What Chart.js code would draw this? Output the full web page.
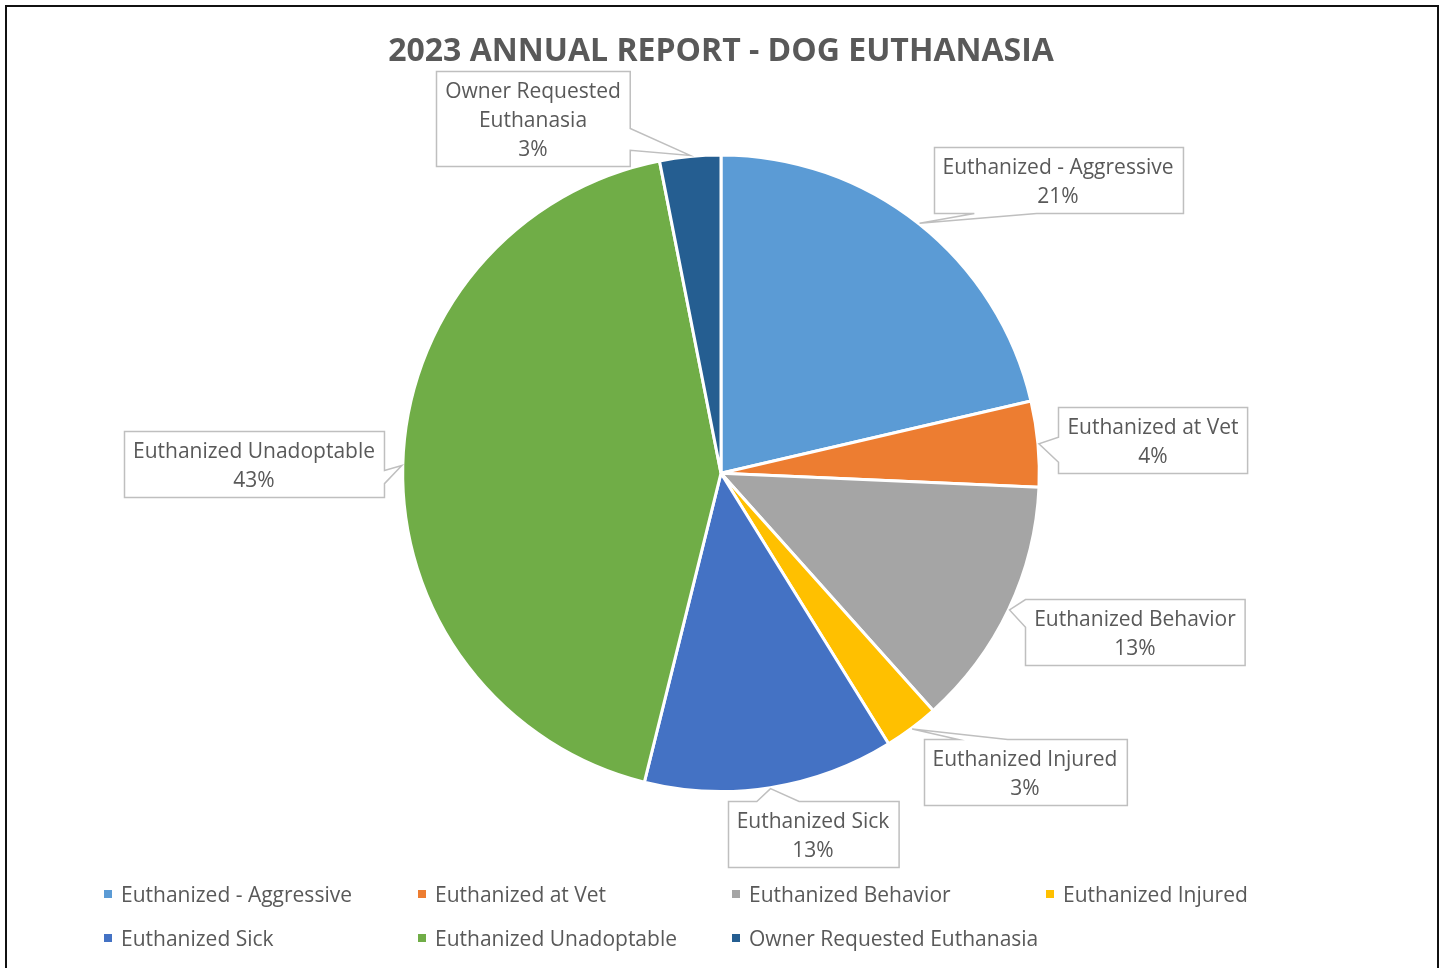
<!DOCTYPE html>
<html>
<head>
<meta charset="utf-8">
<title>2023 Annual Report - Dog Euthanasia</title>
<script src="https://cdn.jsdelivr.net/npm/chart.js@4"></script>
<style>
  html, body { margin: 0; padding: 0; background: #fff; overflow: hidden; }
  #wrap { position: relative; width: 1443px; height: 968px; }
  #frame { position: absolute; left: 5px; top: 5px; width: 1430px; height: 1000px; border: 2px solid #111; pointer-events: none; }
</style>
</head>
<body>
<div id="wrap">
  <canvas id="dogChart" width="1443" height="968"></canvas>
  <div id="frame"></div>
</div>
<script>
// Data
const categories = [
    'Euthanized - Aggressive',
    'Euthanized at Vet',
    'Euthanized Behavior',
    'Euthanized Injured',
    'Euthanized Sick',
    'Euthanized Unadoptable',
    'Owner Requested Euthanasia'
];
const dogCounts = [69, 14, 41, 9, 41, 139, 10];

// Styles
const sliceColors = ['#5B9BD5', '#ED7D31', '#A5A5A5', '#FFC000', '#4472C4', '#70AD47', '#255E91'];
const textColor = '#595959';
const fontFamily = '"Open Sans", "Noto Sans", sans-serif';
const labelSize = 21;

// Callout box placement (centre of box, side holding the pointer, pointer base as fraction of that side)
const calloutBoxes = [
    { cx: 1058, cy: 180, side: 'bottom', base: [0.16, 0.41] },
    { cx: 1153, cy: 440, side: 'left', base: [0.45, 0.83] },
    { cx: 1135, cy: 632, side: 'left', base: [0.0, 0.42] },
    { cx: 1025, cy: 772, side: 'top', base: [0.167, 0.41] },
    { cx: 813, cy: 834, side: 'top', base: [0.166, 0.414] },
    { cx: 254, cy: 464, side: 'right', base: [0.59, 0.79] },
    { cx: 533, cy: 118, side: 'right', base: [0.6, 0.83], wrap: 200 }
];

// Legend grid
const legendCols = [104, 418, 732, 1046];
const legendRows = [894, 938];

function wrapText(ctx, text, maxWidth) {
    if (!maxWidth) return [text];
    const words = text.split(' ');
    const lines = [];
    let line = '';
    words.forEach(function (w) {
        const test = line ? line + ' ' + w : w;
        if (line && ctx.measureText(test).width > maxWidth) {
            lines.push(line);
            line = w;
        } else {
            line = test;
        }
    });
    lines.push(line);
    return lines;
}

function calloutPath(ctx, x0, y0, x1, y1, side, f, tip) {
    const w = x1 - x0, h = y1 - y0;
    ctx.beginPath();
    ctx.moveTo(x0, y0);
    if (side === 'top') { ctx.lineTo(x0 + w * f[0], y0); ctx.lineTo(tip.x, tip.y); ctx.lineTo(x0 + w * f[1], y0); }
    ctx.lineTo(x1, y0);
    if (side === 'right') { ctx.lineTo(x1, y0 + h * f[0]); ctx.lineTo(tip.x, tip.y); ctx.lineTo(x1, y0 + h * f[1]); }
    ctx.lineTo(x1, y1);
    if (side === 'bottom') { ctx.lineTo(x0 + w * f[1], y1); ctx.lineTo(tip.x, tip.y); ctx.lineTo(x0 + w * f[0], y1); }
    ctx.lineTo(x0, y1);
    if (side === 'left') { ctx.lineTo(x0, y0 + h * f[1]); ctx.lineTo(tip.x, tip.y); ctx.lineTo(x0, y0 + h * f[0]); }
    ctx.closePath();
}

// Draws the Excel style callout labels
const calloutPlugin = {
    id: 'callouts',
    afterDatasetsDraw(chart) {
        const ctx = chart.ctx;
        const meta = chart.getDatasetMeta(0);
        const values = chart.data.datasets[0].data;
        const total = values.reduce((a, b) => a + b, 0);
        ctx.save();
        ctx.font = labelSize + 'px ' + fontFamily;
        meta.data.forEach(function (arc, i) {
            const p = arc.getProps(['x', 'y', 'startAngle', 'endAngle', 'outerRadius'], true);
            const mid = (p.startAngle + p.endAngle) / 2;
            const tip = { x: p.x + Math.cos(mid) * (p.outerRadius + 1), y: p.y + Math.sin(mid) * (p.outerRadius + 1) };
            const box = calloutBoxes[i];
            const lines = wrapText(ctx, chart.data.labels[i], box.wrap);
            lines.push(Math.round(values[i] / total * 100) + '%');
            const tw = Math.max.apply(null, lines.map(l => ctx.measureText(l).width));
            const lineH = 29;
            const bw = tw + 18, bh = lines.length * lineH + 8;
            const x0 = Math.round(box.cx - bw / 2) + 0.5, y0 = Math.round(box.cy - bh / 2) + 0.5;
            calloutPath(ctx, x0, y0, x0 + bw, y0 + bh, box.side, box.base, tip);
            ctx.fillStyle = '#fff';
            ctx.fill();
            ctx.strokeStyle = '#BFBFBF';
            ctx.lineWidth = 1.5;
            ctx.stroke();
            ctx.fillStyle = textColor;
            ctx.textAlign = 'center';
            ctx.textBaseline = 'middle';
            lines.forEach(function (l, k) {
                ctx.fillText(l, box.cx, y0 + 6 + lineH * (k + 0.5));
            });
        });
        ctx.restore();
    }
};

// Legend laid out on a fixed grid
const gridLegendPlugin = {
    id: 'gridLegend',
    afterDraw(chart) {
        const ctx = chart.ctx;
        ctx.save();
        ctx.font = labelSize + 'px ' + fontFamily;
        ctx.textBaseline = 'middle';
        ctx.textAlign = 'left';
        chart.data.labels.forEach(function (label, i) {
            const x = legendCols[i % 4];
            const y = legendRows[Math.floor(i / 4)];
            ctx.fillStyle = sliceColors[i];
            ctx.fillRect(x, y - 4, 8, 8);
            ctx.fillStyle = textColor;
            ctx.fillText(label, x + 17, y + 2);
        });
        ctx.restore();
    }
};

const ctx = document.getElementById('dogChart').getContext('2d');
new Chart(ctx, {
    type: 'pie',
    data: {
        labels: categories,
        datasets: [{
            data: dogCounts,
            backgroundColor: sliceColors,
            borderColor: '#fff',
            borderWidth: 3
        }]
    },
    options: {
        responsive: false,
        animation: false,
        layout: { padding: { top: 0, bottom: 175, left: 0, right: 1 } },
        plugins: {
            legend: { display: false },
            tooltip: { enabled: false },
            title: {
                display: true,
                text: '2023 ANNUAL REPORT - DOG EUTHANASIA',
                color: textColor,
                font: { family: fontFamily, size: 32, weight: 'bold' },
                padding: { top: 33, bottom: 82 }
            }
        }
    },
    plugins: [calloutPlugin, gridLegendPlugin]
});
</script>
</body>
</html>
